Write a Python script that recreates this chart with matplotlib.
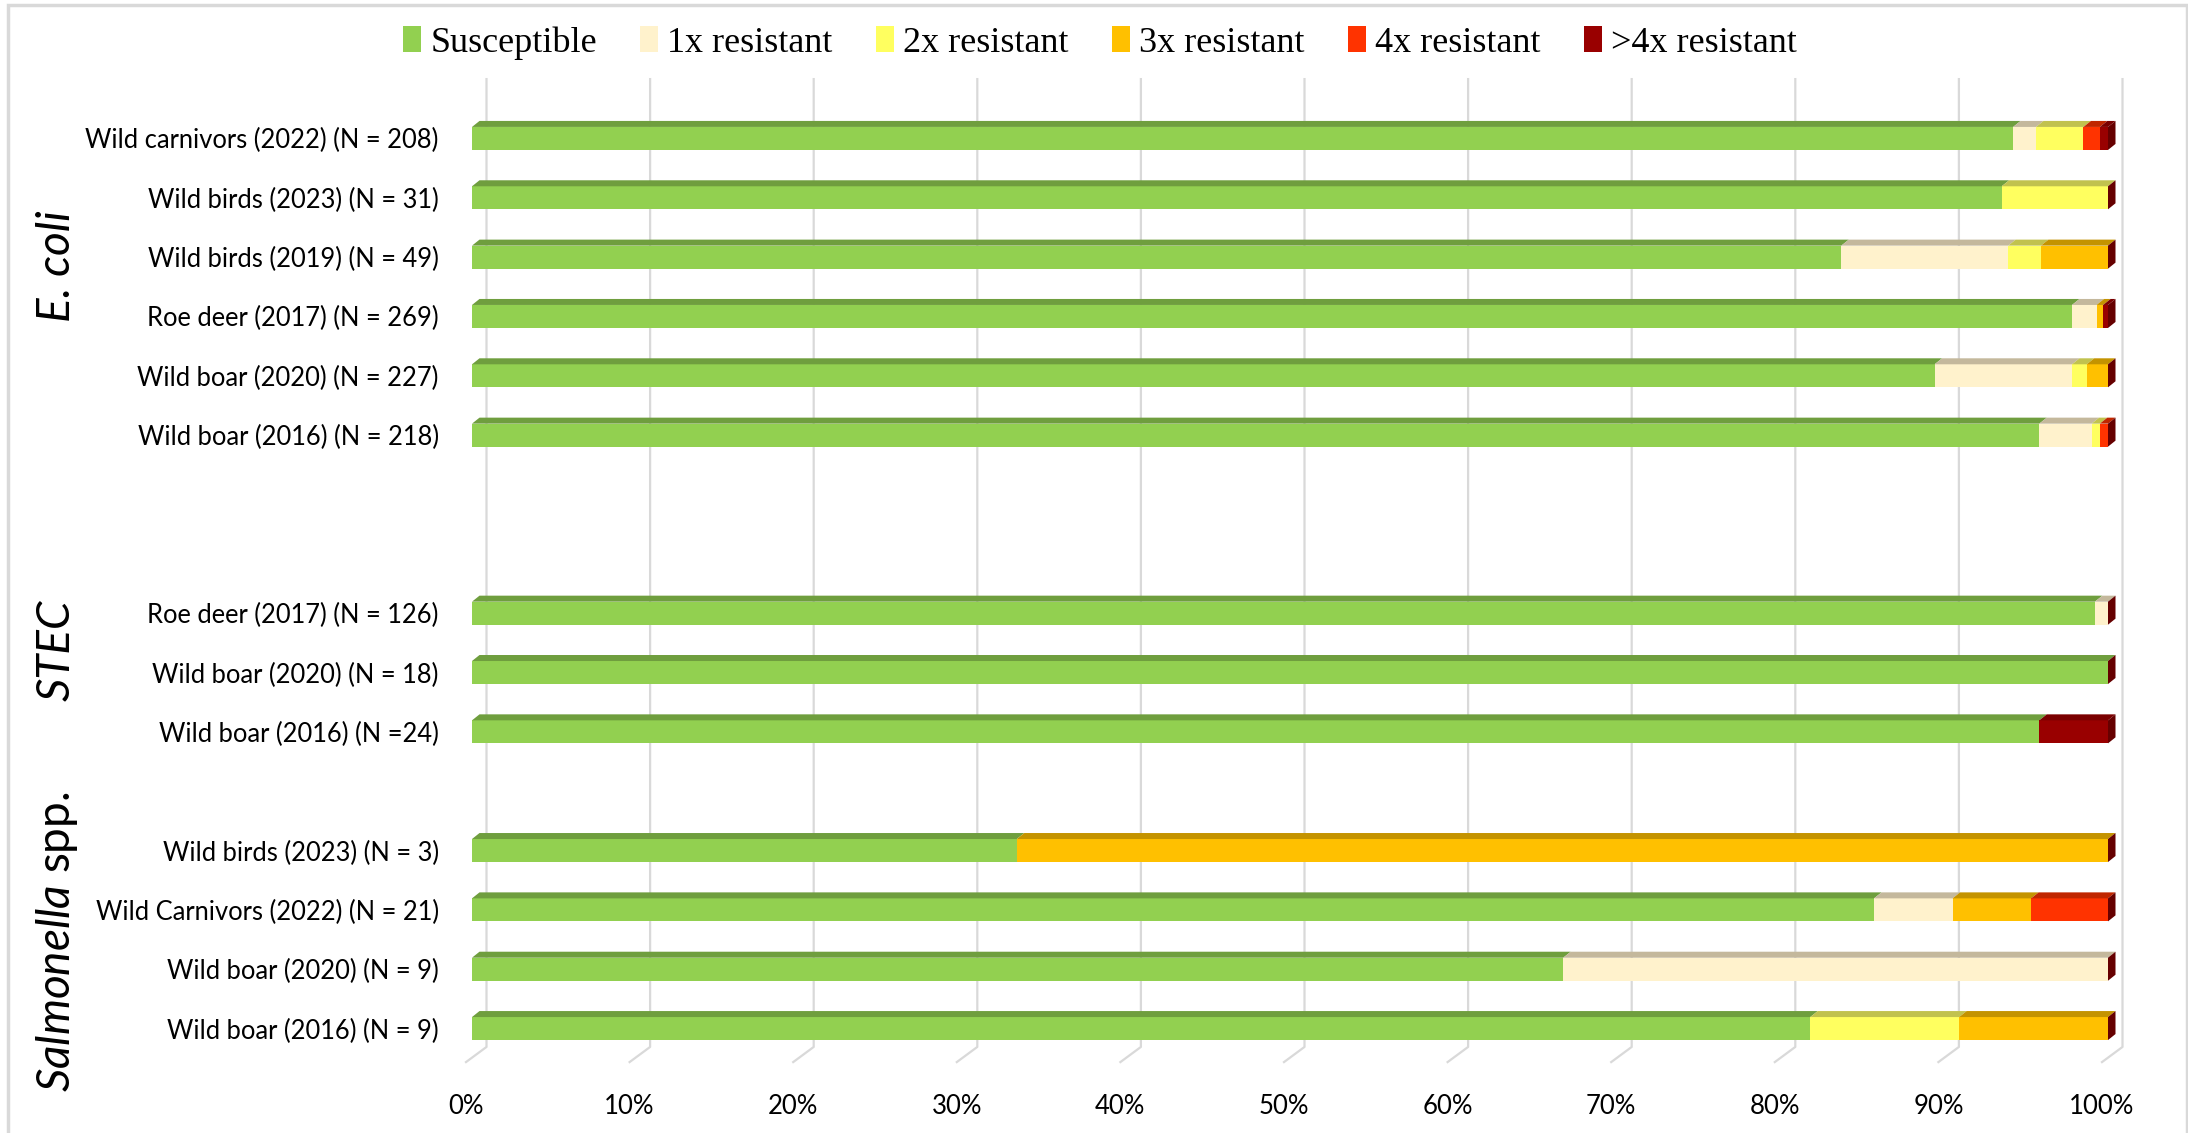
import matplotlib
matplotlib.use("Agg")
from matplotlib import pyplot as plt
from matplotlib.patches import Polygon, Patch, Rectangle
import matplotlib.transforms as mtransforms

plt.rcParams['font.family'] = ['Lato', 'DejaVu Sans']
plt.rcParams['mathtext.fontset'] = 'custom'
plt.rcParams['mathtext.it'] = 'Lato:italic'
plt.rcParams['mathtext.rm'] = 'Lato'

# rows listed top -> bottom
row_labels = ["Wild carnivors (2022) (N = 208)",
              "Wild birds (2023) (N = 31)",
              "Wild birds (2019) (N = 49)",
              "Roe deer (2017) (N = 269)",
              "Wild boar (2020) (N = 227)",
              "Wild boar (2016) (N = 218)",
              "Roe deer (2017) (N = 126)",
              "Wild boar (2020) (N = 18)",
              "Wild boar (2016) (N =24)",
              "Wild birds (2023) (N = 3)",
              "Wild Carnivors (2022) (N = 21)",
              "Wild boar (2020) (N = 9)",
              "Wild boar (2016) (N = 9)"]
# category slot of each row (empty slots separate the groups)
row_slots = [15, 14, 13, 12, 11, 10, 7, 6, 5, 3, 2, 1, 0]

series_names = ["Susceptible", "1x resistant", "2x resistant",
                "3x resistant", "4x resistant", ">4x resistant"]
susceptible = [94.2, 93.5, 83.7, 97.8, 89.4, 95.8, 99.2, 100.0, 95.8, 33.3, 85.7, 66.7, 81.8]
res_1x = [1.4, 0, 10.2, 1.5, 8.4, 3.2, 0.8, 0, 0, 0, 4.8, 33.3, 0]
res_2x = [2.9, 6.5, 2.0, 0, 0.9, 0.5, 0, 0, 0, 0, 0, 0, 9.1]
res_3x = [0, 0, 4.1, 0.4, 1.3, 0, 0, 0, 0, 66.7, 4.8, 0, 9.1]
res_4x = [1.0, 0, 0, 0, 0, 0.5, 0, 0, 0, 0, 4.7, 0, 0]
res_gt4x = [0.5, 0, 0, 0.3, 0, 0, 0, 0, 4.2, 0, 0, 0, 0]

groups = ["E. coli", "STEC", r"$\mathit{Salmonella}$ spp."]
group_centers = [12.85, 6.38, 1.46]

x_ticks = [0, 10, 20, 30, 40, 50, 60, 70, 80, 90, 100]

front_colors = ['#92D050', '#FFF2CC', '#FFFF5F', '#FFC000', '#FF3300', '#990000']
top_colors = ['#6F9E3E', '#C4B89C', '#C1C24E', '#C49300', '#C02600', '#7A0000']
side_color = '#660000'
grid_color = '#D9D9D9'

W, H = 2188, 1133
fig = plt.figure(figsize=(W / 100, H / 100), dpi=100)
ax = fig.add_axes([472 / W, 0.066, (2108 - 472) / W, 0.904 - 0.066])
ax.set_xlim(0, 100)
ax.set_ylim(-0.5, 15.5)
for s in ax.spines.values():
    s.set_visible(False)

px_x = ax.get_position().width * W / 100.0   # pixels per percent
px_y = ax.get_position().height * H / 16.0   # pixels per slot

bar_h = 23 / px_y
ddx, ddy = 7.5 / px_x, 6 / px_y

# back wall gridlines with floor step
wall_dx = 14.5 / px_x
floor_dx = -6 / px_x
for t in x_ticks:
    ax.plot([t + wall_dx, t + wall_dx, t + floor_dx], [16.0, -0.31, -0.565],
            color=grid_color, lw=1.6, clip_on=False, zorder=0)

series = [susceptible, res_1x, res_2x, res_3x, res_4x, res_gt4x]
lefts = [0.0] * len(row_labels)
for k, vals in enumerate(series):
    ax.barh(row_slots, vals, left=lefts, height=bar_h, color=front_colors[k],
            edgecolor='none', zorder=2)
    for i, v in enumerate(vals):
        if v <= 0:
            continue
        y0 = row_slots[i] + bar_h / 2
        x0 = lefts[i]
        ax.add_patch(Polygon([(x0, y0), (x0 + v, y0), (x0 + v + ddx, y0 + ddy),
                              (x0 + ddx, y0 + ddy)], closed=True,
                             facecolor=top_colors[k], edgecolor='none',
                             zorder=2, clip_on=False))
    lefts = [a + b for a, b in zip(lefts, vals)]

# right end side face
for i, y in enumerate(row_slots):
    xe = lefts[i]
    ax.add_patch(Polygon([(xe, y - bar_h / 2), (xe, y + bar_h / 2),
                          (xe + ddx, y + bar_h / 2 + ddy), (xe + ddx, y - bar_h / 2 + ddy)],
                         closed=True, facecolor=side_color, edgecolor='none',
                         zorder=3, clip_on=False))

ax.set_yticks(row_slots)
ax.set_yticklabels(row_labels, fontsize=18.4)
ax.tick_params(axis='y', length=0, pad=24)

ax.set_xticks(x_ticks)
ax.set_xticklabels(['%d%%' % t for t in x_ticks], fontsize=18.5)
ax.tick_params(axis='x', length=0, pad=26)
shift = mtransforms.ScaledTranslation(-6 / 100, 0, fig.dpi_scale_trans)
for lab in ax.get_xticklabels():
    lab.set_transform(lab.get_transform() + shift)

trans = mtransforms.blended_transform_factory(fig.transFigure, ax.transData)
for g, yc in zip(groups, group_centers):
    style = 'normal' if g.startswith('$') else 'italic'
    ax.text(57 / W, yc, g, transform=trans, rotation=90, fontsize=33,
            style=style, ha='center', va='center')

handles = [Patch(facecolor=c, edgecolor='none') for c in front_colors]
fig.legend(handles, series_names, loc='center', bbox_to_anchor=(1100 / W, 1 - 43 / H),
           ncol=6, frameon=False, prop={'family': 'Liberation Serif', 'size': 26},
           handlelength=0.5, handleheight=0.7, handletextpad=0.25, columnspacing=1.2)

# chart frame
fig.patches.append(Rectangle((8 / W, -0.01), (W - 9) / W, 1.01 - 5 / H,
                             transform=fig.transFigure, fill=False,
                             edgecolor=grid_color, lw=2.5))

fig.savefig('out.png', dpi=100)
